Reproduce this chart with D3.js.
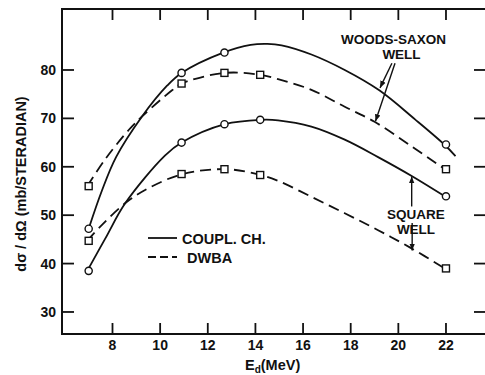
<!DOCTYPE html>
<html>
<head>
<meta charset="utf-8">
<script src="https://cdn.jsdelivr.net/npm/d3@7"></script>
<style>
  body { margin: 0; background: #fff; }
  text { font-family: "Liberation Sans", Arial, sans-serif; font-weight: bold; fill: #111; }
</style>
</head>
<body>
<script>
// DATA

// Deuteron energies of the measured points (MeV)
const energies = [7, 10.9, 12.7, 14.2, 22];
// Marker values, dσ/dΩ in mb/sr (null = no marker)
const wsCoupled = [47.2, 79.4, 83.6, null, 64.6];
const wsDwba    = [56.0, 77.2, 79.4, 79.0, 59.5];
const sqCoupled = [38.5, 65.0, 68.8, 69.7, 53.9];
const sqDwba    = [44.7, 58.5, 59.5, 58.3, 39.0];

// Curves [E, value]
const wsCoupledCurve = [[7, 47.2], [7.55, 55], [8.15, 62], [9.24, 70.4], [10.3, 76.8], [10.9, 79.4],
  [12.65, 83.6], [13.8, 85.2], [14.5, 85.4], [15.1, 85.1], [16.35, 83.2], [17.75, 80],
  [19.2, 75.8], [20.7, 69.8], [21.93, 64.6], [22.4, 62.2]];
const wsDwbaCurve = [[6.94, 56], [7.7, 61.6], [8.68, 67.6], [9.24, 70.4], [10.5, 75.8], [10.9, 77.2],
  [12.72, 79.4], [14.2, 79], [14.95, 78.1], [16.35, 75.9], [17.75, 72.4], [19.0, 69.3],
  [20.5, 64.4], [21.95, 59.5]];
const sqCoupledCurve = [[6.94, 38.5], [7.7, 45.2], [8.54, 52.5], [10.2, 62.3], [10.9, 65],
  [12.72, 68.8], [14.22, 69.7], [14.95, 69.6], [16.35, 68.3], [17.75, 65.6], [19.15, 62.0],
  [20.56, 58.1], [21.95, 53.9]];
const sqDwbaCurve = [[6.94, 44.7], [7.56, 48], [8.54, 52.5], [9.52, 55.6], [10.95, 58.5],
  [12.77, 59.5], [14.22, 58.3], [14.95, 57.1], [16.35, 53.8], [17.75, 50.4], [19.15, 46.9],
  [20.5, 43.3], [21.95, 39.0]];

// Tick labels
const xTicks = [8, 10, 12, 14, 16, 18, 20, 22];
const yTicks = [30, 40, 50, 60, 70, 80];

// Legend entries
const legendLabels = ["COUPL. CH.", "DWBA"];

// SETUP
const width = 485;
const height = 375;
const frame = {left: 62, right: 486, top: 9, bottom: 334};

const svg = d3.select('body')
  .append('svg')
  .attr('width', width)
  .attr('height', height);

const x = d3.scaleLinear().domain([5.88, 23.68]).range([frame.left, frame.right]);
const y = d3.scaleLinear().domain([25.45, 92.6]).range([frame.bottom, frame.top]);

// arrowhead marker
svg.append('defs').append('marker')
  .attr('id', 'arrow')
  .attr('viewBox', '0 0 10 10')
  .attr('refX', 10).attr('refY', 5)
  .attr('markerWidth', 7).attr('markerHeight', 7)
  .attr('markerUnits', 'userSpaceOnUse')
  .attr('orient', 'auto')
  .append('path')
  .attr('d', 'M0,1 L10,5 L0,9 Z')
  .attr('fill', '#111');

// FRAME AND TICKS
svg.append('rect')
  .attr('x', frame.left).attr('y', frame.top)
  .attr('width', frame.right - frame.left)
  .attr('height', frame.bottom - frame.top)
  .attr('fill', 'none').attr('stroke', '#111').attr('stroke-width', 2);

const tickLen = 11;
const axes = svg.append('g').attr('stroke', '#111').attr('stroke-width', 1.8);

axes.selectAll('.xb').data(xTicks).join('line')                                // bottom ticks
  .attr('x1', d => x(d)).attr('x2', d => x(d))
  .attr('y1', frame.bottom).attr('y2', frame.bottom - tickLen);
axes.selectAll('.xt').data(xTicks).join('line')                                // top ticks
  .attr('x1', d => x(d)).attr('x2', d => x(d))
  .attr('y1', frame.top).attr('y2', frame.top + tickLen);
axes.selectAll('.yl').data(yTicks).join('line')                                // left ticks
  .attr('y1', d => y(d)).attr('y2', d => y(d))
  .attr('x1', frame.left).attr('x2', frame.left + 12);
axes.selectAll('.yr').data(yTicks).join('line')                                // right ticks
  .attr('y1', d => y(d)).attr('y2', d => y(d))
  .attr('x1', frame.right).attr('x2', frame.right - 12);

svg.append('g').selectAll('text').data(xTicks).join('text')
  .attr('x', d => x(d)).attr('y', 350)
  .attr('text-anchor', 'middle')
  .style('font-size', '14px')
  .text(d => d);

svg.append('g').selectAll('text').data(yTicks).join('text')
  .attr('x', 56).attr('y', d => y(d) + 5)
  .attr('text-anchor', 'end')
  .style('font-size', '14px')
  .text(d => d);

// axis titles
svg.append('text')
  .attr('transform', 'translate(26,184) rotate(-90)')
  .attr('text-anchor', 'middle')
  .style('font-size', '14.5px')
  .text('dσ / dΩ (mb/STERADIAN)');

const xt = svg.append('text')
  .attr('x', 245).attr('y', 370)
  .style('font-size', '14.5px');
xt.append('tspan').text('E');
xt.append('tspan').attr('dy', 3).style('font-size', '10px').text('d');
xt.append('tspan').attr('dy', -3).text('(MeV)');

// CURVES
const line = d3.line()
  .x(d => x(d[0]))
  .y(d => y(d[1]))
  .curve(d3.curveCatmullRom.alpha(0.5));

const curves = [
  {pts: wsCoupledCurve, dash: null},
  {pts: wsDwbaCurve, dash: '11,6'},
  {pts: sqCoupledCurve, dash: null},
  {pts: sqDwbaCurve, dash: '11,6'}
];

svg.append('g').selectAll('path').data(curves).join('path')
  .attr('d', d => line(d.pts))
  .attr('fill', 'none')
  .attr('stroke', '#111')
  .attr('stroke-width', 1.8)
  .attr('stroke-dasharray', d => d.dash);

// MARKERS
const pairs = vals => energies.map((e, i) => [e, vals[i]]).filter(d => d[1] !== null);

const circ = svg.append('g');
[wsCoupled, sqCoupled].forEach(vals => {
  circ.selectAll(null).data(pairs(vals)).join('circle')
    .attr('cx', d => x(d[0])).attr('cy', d => y(d[1]))
    .attr('r', 3.6)
    .attr('fill', '#fff').attr('stroke', '#111').attr('stroke-width', 1.4);
});

const sq = svg.append('g');
const s = 7;
[wsDwba, sqDwba].forEach(vals => {
  sq.selectAll(null).data(pairs(vals)).join('rect')
    .attr('x', d => x(d[0]) - s / 2).attr('y', d => y(d[1]) - s / 2)
    .attr('width', s).attr('height', s)
    .attr('fill', '#fff').attr('stroke', '#111').attr('stroke-width', 1.4);
});

// LEGEND
const legend = svg.append('g');
[0, 1].forEach(i => {
  legend.append('line')
    .attr('x1', 148).attr('x2', 177)
    .attr('y1', 238 + i * 19).attr('y2', 238 + i * 19)
    .attr('stroke', '#111').attr('stroke-width', 1.8)
    .attr('stroke-dasharray', i ? '8,4' : null);
  legend.append('text')
    .attr('x', i ? 187 : 182).attr('y', 243.5 + i * 19)
    .style('font-size', '14.5px')
    .text(legendLabels[i]);
});

// ANNOTATIONS
const notes = svg.append('g').style('font-size', '13.5px');
notes.append('text').attr('x', 393.5).attr('y', 44)
  .attr('text-anchor', 'middle').text('WOODS-SAXON');
notes.append('text').attr('x', 401.5).attr('y', 59)
  .attr('text-anchor', 'middle').text('WELL');
notes.append('text').attr('x', 416).attr('y', 219)
  .attr('text-anchor', 'middle').text('SQUARE');
notes.append('text').attr('x', 416).attr('y', 234)
  .attr('text-anchor', 'middle').text('WELL');

// arrows: [start E, start value, tip E, tip value]
const arrows = [
  [19.73, 81.4, 19.23, 76.3],
  [19.86, 81.4, 19.04, 69.4],
  [20.56, 51.8, 20.56, 58.0],
  [20.58, 48.4, 20.58, 42.7]
];
notes.selectAll('.arr').data(arrows).join('line')
  .attr('x1', d => x(d[0])).attr('y1', d => y(d[1]))
  .attr('x2', d => x(d[2])).attr('y2', d => y(d[3]))
  .attr('stroke', '#111').attr('stroke-width', 1.4)
  .attr('marker-end', 'url(#arrow)');
</script>
</body>
</html>
